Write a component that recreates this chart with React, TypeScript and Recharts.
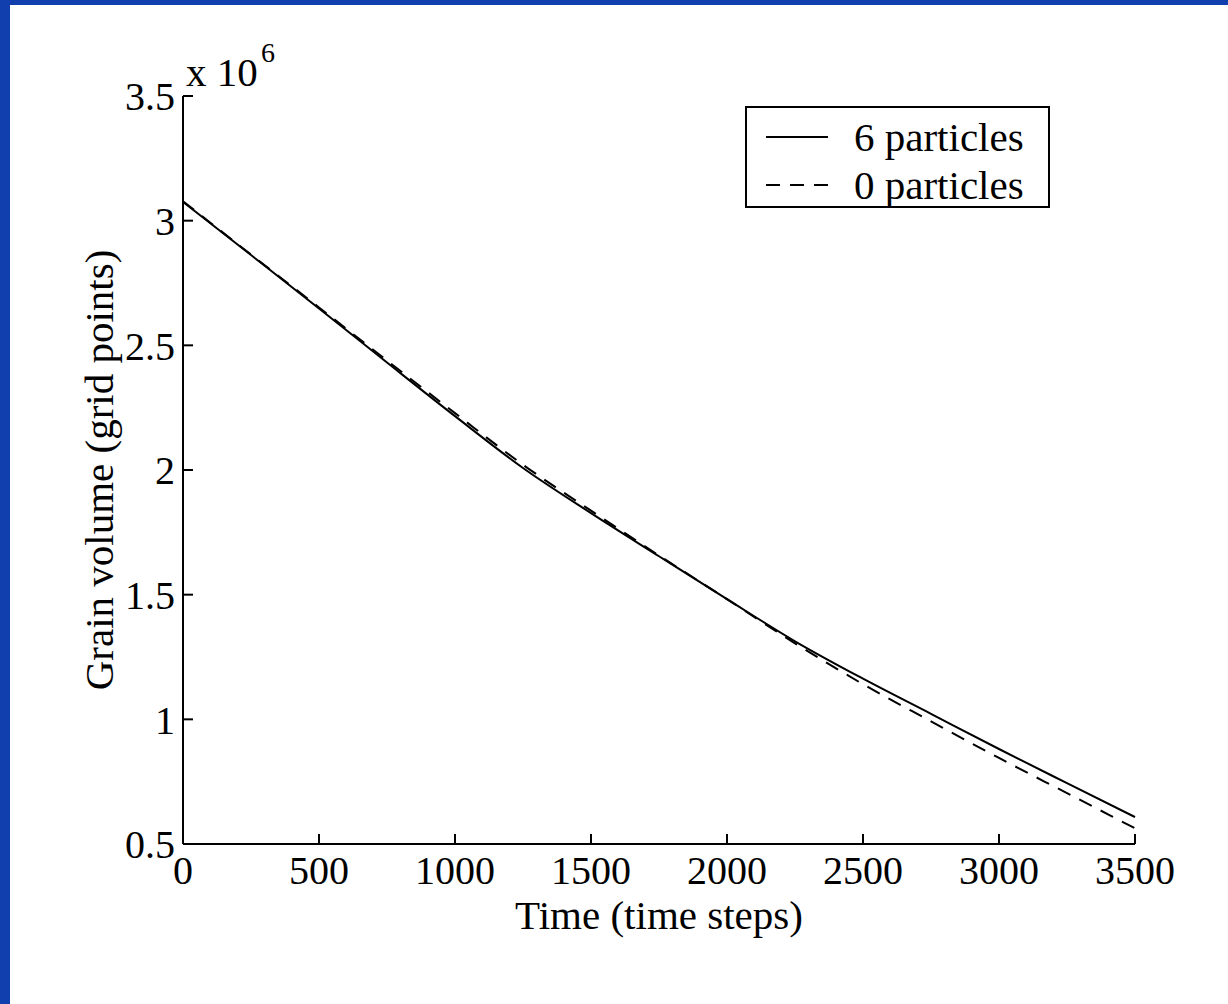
import { LineChart, Line, XAxis, YAxis, Legend, Customized } from 'recharts'

const FONT = '"Liberation Serif", "Times New Roman", serif'
const FRAME_BLUE = '#1140ae'

// time steps sampled every 250 steps
const timeSteps = [0, 250, 500, 750, 1000, 1250, 1500, 1750, 2000, 2250, 2500, 2750, 3000, 3250, 3500]
// grain volume in units of 10^6 grid points
const sixParticles = [3.075, 2.862, 2.648, 2.431, 2.216, 2.008, 1.827, 1.654, 1.482, 1.313, 1.163, 1.022, 0.881, 0.744, 0.608]
const zeroParticles = [3.078, 2.864, 2.652, 2.439, 2.228, 2.021, 1.837, 1.657, 1.482, 1.305, 1.141, 0.992, 0.845, 0.704, 0.563]

const seriesKeys = ['six', 'zero']
const seriesNames = ['6 particles', '0 particles']

const xTicks = [0, 500, 1000, 1500, 2000, 2500, 3000, 3500]
const yTicks = [0.5, 1, 1.5, 2, 2.5, 3, 3.5]

const data = timeSteps.map((t, i) => ({
  t,
  six: sixParticles[i],
  zero: zeroParticles[i],
}))

const tickStyle = { fill: '#000', fontSize: 40, fontFamily: FONT }
const axisLine = { stroke: '#000', strokeWidth: 2 }
const tickLine = { stroke: '#000', strokeWidth: 2 }

function LegendBox({ payload }: any) {
  // keep the series in plotting order, not alphabetical
  const items = [...(payload || [])].sort(
    (a: any, b: any) => seriesKeys.indexOf(a.dataKey) - seriesKeys.indexOf(b.dataKey)
  )
  return (
    <div
      style={{
        width: 301,
        height: 98,
        border: '2px solid #000',
        background: '#fff',
        position: 'relative',
        fontFamily: FONT,
        fontSize: 41,
        color: '#000',
      }}
    >
      {items.map((entry: any, i: number) => (
        <div
          key={entry.value}
          style={{
            position: 'absolute',
            left: 18,
            top: 7 + i * 48,
            height: 44,
            display: 'flex',
            alignItems: 'center',
            whiteSpace: 'nowrap',
          }}
        >
          <svg width={64} height={10} style={{ marginRight: 25 }}>
            <line
              x1={1}
              y1={5}
              x2={63}
              y2={5}
              stroke="#000"
              strokeWidth={2}
              strokeDasharray={entry.payload?.strokeDasharray}
            />
          </svg>
          <span>{entry.value}</span>
        </div>
      ))}
    </div>
  )
}

function AxisTitles() {
  return (
    <g fontFamily={FONT} fill="#000">
      <text x={659} y={929} fontSize={41} textAnchor="middle">
        Time (time steps)
      </text>
      <text x={113} y={470} fontSize={41} textAnchor="middle" transform="rotate(-90 113 470)">
        Grain volume (grid points)
      </text>
      <text x={186} y={86} fontSize={41}>
        x 10
      </text>
      <text x={261} y={62} fontSize={28}>
        6
      </text>
    </g>
  )
}

export default function App() {
  return (
    <div style={{ position: 'absolute', left: 0, top: 0, width: 1228, height: 1004, background: '#fff' }}>
      <LineChart
        width={1228}
        height={1004}
        data={data}
        margin={{ top: 96, right: 93, bottom: 100, left: 103 }}
      >
        <XAxis
          dataKey="t"
          type="number"
          domain={[0, 3500]}
          ticks={xTicks}
          interval={0}
          height={60}
          tick={tickStyle}
          tickSize={-10}
          tickMargin={22}
          axisLine={axisLine}
          tickLine={tickLine}
        />
        <XAxis
          xAxisId="top"
          orientation="top"
          dataKey="t"
          type="number"
          domain={[0, 3500]}
          ticks={xTicks}
          interval={0}
          height={0}
          tick={false}
          tickSize={-10}
          axisLine={axisLine}
          tickLine={tickLine}
        />
        <YAxis
          type="number"
          domain={[0.5, 3.5]}
          ticks={yTicks}
          interval={0}
          width={80}
          tick={tickStyle}
          tickSize={-10}
          tickMargin={18}
          axisLine={axisLine}
          tickLine={tickLine}
        />
        <YAxis
          yAxisId="right"
          orientation="right"
          type="number"
          domain={[0.5, 3.5]}
          ticks={yTicks}
          interval={0}
          width={0}
          tick={false}
          tickSize={-10}
          axisLine={axisLine}
          tickLine={tickLine}
        />
        <Legend
          layout="horizontal"
          verticalAlign="middle"
          align="center"
          content={<LegendBox />}
          wrapperStyle={{ position: 'absolute', left: 745, top: 106, width: 305, height: 102 }}
        />
        <Line
          type="monotone"
          dataKey="six"
          name={seriesNames[0]}
          stroke="#000"
          strokeWidth={2}
          dot={false}
          isAnimationActive={false}
        />
        <Line
          type="monotone"
          dataKey="zero"
          name={seriesNames[1]}
          stroke="#000"
          strokeWidth={2}
          strokeDasharray="14 10"
          dot={false}
          isAnimationActive={false}
        />
        <Customized component={AxisTitles} />
      </LineChart>
      <div style={{ position: 'absolute', left: 0, top: 0, width: 1228, height: 5, background: FRAME_BLUE }} />
      <div style={{ position: 'absolute', left: 0, top: 0, width: 10, height: 1004, background: FRAME_BLUE }} />
    </div>
  )
}
